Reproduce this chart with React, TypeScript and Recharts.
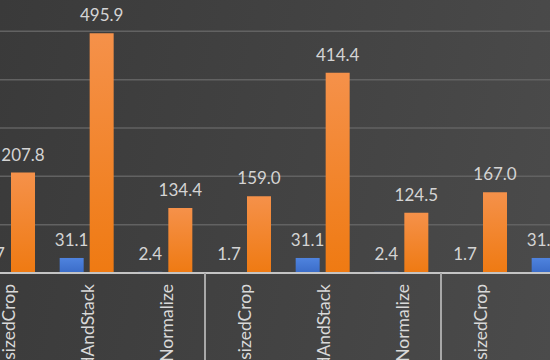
import { Bar, BarChart, CartesianGrid, LabelList, XAxis, YAxis } from 'recharts';

const categories = [
  'RandomResizedCrop',
  'PadAndStack',
  'Normalize',
  'RandomResizedCrop',
  'PadAndStack',
  'Normalize',
  'RandomResizedCrop',
  'PadAndStack',
  'Normalize',
];
const blueValues = [1.7, 31.1, 2.4, 1.7, 31.1, 2.4, 1.7, 31.1, 2.4];
const orangeValues = [207.8, 495.9, 134.4, 159.0, 414.4, 124.5, 167.0, 420.0, 128.0];
const yTicks = [0, 100, 200, 300, 400, 500, 600];

const data = categories.map((name, i) => ({
  name,
  blue: blueValues[i],
  orange: orangeValues[i],
}));

const PLOT_W = 708;
const PLOT_H = 290;
const AXIS_H = 100;
const BAND = PLOT_W / categories.length;
const FONT = 'Lato, "Open Sans", sans-serif';

function CategoryTick(props: any) {
  const { x, y, payload, index } = props;
  return (
    <g>
      {index % 3 === 0 && (
        <line x1={x - BAND / 2} x2={x - BAND / 2} y1={y} y2={y + 100} stroke='#a8a8a8' strokeWidth={2} />
      )}
      <text
        transform={`translate(${x + 7}, ${y + 11}) rotate(-90)`}
        textAnchor='end'
        fill='#d9d9d9'
        fontSize={17.5}
        fontFamily={FONT}
      >
        {payload.value}
      </text>
    </g>
  );
}

const fmt = (v: any) => Number(v).toFixed(1);

export default function App() {
  return (
    <div
      style={{
        position: 'fixed',
        left: 0,
        top: 0,
        width: 550,
        height: 360,
        overflow: 'hidden',
        background: 'linear-gradient(100deg, #3a3a3a 0%, #434343 55%, #4b4b4b 100%)',
      }}
    >
      <div style={{ position: 'absolute', left: -31, top: -17 }}>
        <BarChart
          width={PLOT_W}
          height={PLOT_H + AXIS_H}
          data={data}
          margin={{ top: 0, right: 0, bottom: 0, left: 0 }}
          barSize={24}
          barGap={6}
        >
          <defs>
            <linearGradient id='gBlue' x1='0' y1='0' x2='0' y2='1'>
              <stop offset='0%' stopColor='#4f83de' />
              <stop offset='100%' stopColor='#3a6cc8' />
            </linearGradient>
            <linearGradient id='gOrange' x1='0' y1='0' x2='0' y2='1'>
              <stop offset='0%' stopColor='#f5914a' />
              <stop offset='100%' stopColor='#ef7a12' />
            </linearGradient>
          </defs>
          <CartesianGrid vertical={false} stroke='#626262' strokeWidth={1.5} />
          <YAxis hide domain={[0, 600]} ticks={yTicks} />
          <XAxis
            dataKey='name'
            height={AXIS_H}
            interval={0}
            tickLine={false}
            tickSize={0}
            tickMargin={0}
            axisLine={{ stroke: '#c4c4c4', strokeWidth: 2 }}
            tick={<CategoryTick />}
          />
          <Bar dataKey='blue' fill='url(#gBlue)' isAnimationActive={false}>
            <LabelList dataKey='blue' position='top' offset={12} fill='#d4d4d4' fontSize={17} fontFamily={FONT} formatter={fmt} />
          </Bar>
          <Bar dataKey='orange' fill='url(#gOrange)' isAnimationActive={false}>
            <LabelList dataKey='orange' position='top' offset={12} fill='#d4d4d4' fontSize={17} fontFamily={FONT} formatter={fmt} />
          </Bar>
        </BarChart>
      </div>
    </div>
  );
}
